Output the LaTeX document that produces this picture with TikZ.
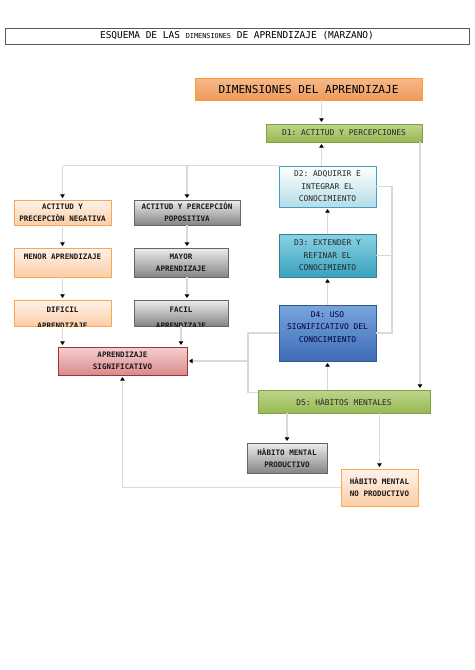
\documentclass[tikz,border=0pt]{standalone}
\usepackage{fontspec}
\setmonofont{DejaVu Sans Mono}
\usetikzlibrary{arrows.meta,shadows}
\definecolor{dimA}{HTML}{F6B98A}
\definecolor{dimB}{HTML}{EE9A5C}
\definecolor{oliveA}{HTML}{BCD58A}
\definecolor{oliveB}{HTML}{98B955}
\definecolor{peachA}{HTML}{FFF3EA}
\definecolor{peachB}{HTML}{FBCDA6}
\definecolor{greyA}{HTML}{EDEDED}
\definecolor{greyB}{HTML}{858585}
\definecolor{roseA}{HTML}{F5CFCF}
\definecolor{roseB}{HTML}{D98A8A}
\definecolor{aquaA}{HTML}{FFFFFF}
\definecolor{aquaB}{HTML}{B5DDE8}
\definecolor{tealA}{HTML}{8AD1E2}
\definecolor{tealB}{HTML}{3AA2BF}
\definecolor{navyA}{HTML}{78A4DE}
\definecolor{navyB}{HTML}{3F6DB7}

\begin{document}
\begin{tikzpicture}[x=0.02cm, y=-0.02cm, font=\ttfamily,
  box/.style={draw, rectangle, align=center, inner sep=0.5pt, drop shadow={shadow xshift=0.8pt, shadow yshift=-0.8pt, opacity=0.5}},
  dtxt/.style={font=\ttfamily\fontsize{4.5}{7.1}\selectfont, text=black!85},
  btxt/.style={font=\ttfamily\bfseries\fontsize{4.3}{6.8}\selectfont, text=black!90},
  peach/.style={box, btxt, draw=orange!70!white, top color=peachA, bottom color=peachB},
  grey/.style={box, btxt, draw=black!60, top color=greyA, bottom color=greyB},
  olive/.style={box, dtxt, draw=oliveB!85!black, top color=oliveA, bottom color=oliveB},
  link/.style={black!15, line width=0.6pt},
  arr/.style={link, -{Triangle[length=2pt, width=2.6pt, color=black]}, shorten >=1pt}]
\useasboundingbox (0,0) rectangle (474,670);
\coordinate (cx) at (321.5,0);
\coordinate (rb) at (392,0);
\coordinate (rr) at (420,0);
\coordinate (lb) at (248,0);
% title and head
\node[draw=black!65, minimum width=9.28cm, minimum height=0.32cm, inner sep=0pt, font=\ttfamily\fontsize{5.4}{6}\selectfont] (title) at (237,36) {ESQUEMA DE LAS {\fontsize{3.9}{4}\selectfont DIMENSIONES} DE APRENDIZAJE (MARZANO)};
\node[box, draw=orange!80, top color=dimA, bottom color=dimB, minimum width=4.54cm, minimum height=0.44cm, font=\ttfamily\fontsize{6.3}{7}\selectfont] (dim) at (308.5,89) {DIMENSIONES DEL APRENDIZAJE};
% dimensions
\node[olive, minimum width=3.12cm, minimum height=0.36cm] (d1) at (344,133) {D1: ACTITUD Y PERCEPCIONES};
\node[box, dtxt, draw=tealB, top color=aquaA, bottom color=aquaB, minimum width=1.94cm, minimum height=0.82cm] (d2) at (327.5,186.5) {D2: ADQUIRIR E\\INTEGRAR EL\\CONOCIMIENTO};
\node[box, dtxt, draw=tealB!80!black, top color=tealA, bottom color=tealB, minimum width=1.94cm, minimum height=0.86cm] (d3) at (327.5,255.5) {D3: EXTENDER Y\\REFINAR EL\\CONOCIMIENTO};
\node[box, dtxt, text=blue!25!black, draw=navyB!80!black, top color=navyA, bottom color=navyB, minimum width=1.94cm, minimum height=1.12cm] (d4) at (327.5,333) {D4: USO\\SIGNIFICATIVO DEL\\CONOCIMIENTO\\ };
\node[olive, minimum width=3.44cm, minimum height=0.46cm] (d5) at (344,401.5) {D5: HÀBITOS MENTALES};
% left columns
\node[peach, minimum width=1.94cm, minimum height=0.5cm] (neg) at (62.5,212.5) {ACTITUD Y\\PRECEPCIÒN NEGATIVA};
\node[grey, minimum width=2.12cm, minimum height=0.5cm] (pos) at (187,212.5) {ACTITUD Y PERCEPCIÒN\\POPOSITIVA};
\node[peach, minimum width=1.94cm, minimum height=0.58cm] (menor) at (62.5,262.5) {MENOR APRENDIZAJE\\ };
\node[grey, minimum width=1.88cm, minimum height=0.58cm] (mayor) at (181,262.5) {MAYOR\\APRENDIZAJE};
\node[peach, minimum width=1.94cm, minimum height=0.52cm] (dificil) at (62.5,313) {};
\node[grey, minimum width=1.88cm, minimum height=0.52cm] (facil) at (181,313) {};
\foreach \b/\t in {dificil/DIFICIL, facil/FACIL} { \begin{scope} \clip (\b.south west) rectangle (\b.north east); \node[btxt, align=center, anchor=north, inner sep=0pt] (\b txt) at ([yshift=-0.14cm]\b.north) {\t\\[2.2pt]APRENDIZAJE}; \end{scope} }
\node[box, btxt, draw=red!55!black!80, top color=roseA, bottom color=roseB, minimum width=2.58cm, minimum height=0.56cm] (as) at (122.5,361) {APRENDIZAJE\\SIGNIFICATIVO};
% habits
\node[grey, minimum width=1.6cm, minimum height=0.6cm] (hmp) at (287,458) {HÀBITO MENTAL\\PRODUCTIVO};
\node[peach, minimum width=1.54cm, minimum height=0.74cm] (hmnp) at (379.5,487.5) {HÀBITO MENTAL\\NO PRODUCTIVO};
\coordinate (d5in) at ([yshift=0.18cm]d5.west);
% connectors
\draw[arr] (dim.south -| cx) -- (d1.north -| cx);
\draw[arr] (d2.north -| cx) -- (d1.south -| cx);
\draw[link] (d2.north west) -- (d2.north west -| neg.north);
\foreach \a in {neg, pos} { \draw[arr] (d2.north west -| \a.north) -- (\a.north); }
\draw[arr] (neg.south) -- (menor.north);
\draw[arr] (menor.south) -- (dificil.north);
\draw[arr] (pos.south) -- (pos.south |- mayor.north);
\draw[arr] (pos.south |- mayor.south) -- (pos.south |- facil.north);
\foreach \a in {dificil, facil} { \draw[arr] (\a.south) -- (\a.south |- as.north); }
\draw[arr] (d3.north) -- (d2.south);
\draw[arr] (d4.north) -- (d3.south);
\draw[arr] (d4.south |- d5.north) -- (d4.south);
\draw[link] (d2.east) -| (rb |- d4.east) -- (d4.east);
\draw[link] (d3.east) -- (d3.east -| rb);
\draw[arr] (d1.south -| rr) -- (d5.north -| rr);
\draw[link] (d4.west) -| (lb |- d5in) -- (d5in);
\draw[arr] (lb |- as.east) -- (as.east);
\draw[arr] (hmp.north |- d5.south) -- (hmp.north);
\draw[arr] (hmnp.north |- d5.south) -- (hmnp.north);
\draw[arr] (hmnp.west) -| (as.south);
\end{tikzpicture}
\end{document}
